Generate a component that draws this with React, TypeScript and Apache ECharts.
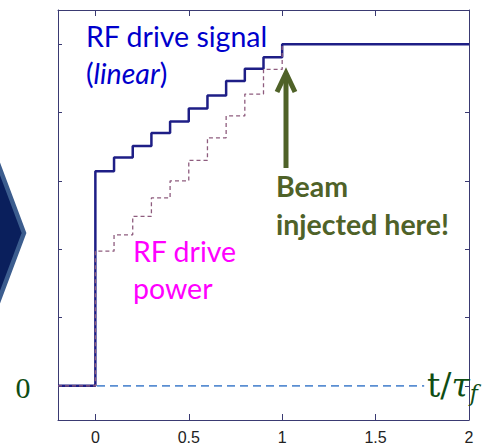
import React, { useEffect, useRef } from "react";
import * as echarts from "echarts";

// step start times (t / tau_f) and levels (arbitrary units, 1 per y tick)
const signalTimes = [-0.2, 0, 0.1, 0.2, 0.3, 0.4, 0.5, 0.6, 0.7, 0.8, 0.9, 1.0, 2.0];
const driveSignal = [0, 3.14, 3.34, 3.51, 3.7, 3.87, 4.06, 4.25, 4.46, 4.64, 4.81, 5.0, 5.0];
const powerTimes = [-0.2, 0, 0.1, 0.2, 0.3, 0.4, 0.5, 0.6, 0.7, 0.8, 0.9, 1.0];
const drivePower = [0, 1.97, 2.21, 2.48, 2.75, 3.0, 3.3, 3.63, 3.95, 4.27, 4.63, 5.0];
const zeroLineTimes = [-0.2, 1.76];
const zeroLineValues = [0, 0];
const xTickValues = [0, 0.5, 1, 1.5, 2];
const xTickLabels = ["0", "0.5", "1", "1.5", "2"];
const yTickValues = [0, 1, 2, 3, 4, 5];

const AXIS = "#3a3a72";
const NAVY = "#1e1e86";
const OLIVE = "#4f6228";
const DKGREEN = "#0f4d14";
const SANS = "Lato, 'Noto Sans', sans-serif";

export default function App() {
  const ref = useRef<HTMLDivElement>(null);
  useEffect(() => {
    document.body.style.margin = "0";
    const chart = echarts.init(ref.current!, undefined, { renderer: "svg" });
    const zip = (xs: number[], ys: number[]) => xs.map((x, i) => [x, ys[i]]);
    const xBase = {
      type: "value" as const,
      min: -0.2,
      max: 2,
      splitLine: { show: false },
      axisLine: { show: true, onZero: false, lineStyle: { color: AXIS, width: 1 } },
      axisTick: { show: true, inside: true, length: 6, customValues: xTickValues, lineStyle: { color: AXIS } },
    };
    const yBase = {
      type: "value" as const,
      min: -0.5,
      max: 5.5,
      splitLine: { show: false },
      axisLine: { show: true, onZero: false, lineStyle: { color: AXIS, width: 1 } },
      axisTick: { show: true, inside: true, length: 4, customValues: yTickValues, lineStyle: { color: AXIS } },
      axisLabel: { show: false },
    };
    chart.setOption({
      animation: false,
      backgroundColor: "#ffffff",
      grid: { left: 58, right: 14, top: 10, bottom: 26, containLabel: false },
      xAxis: [
        {
          ...xBase,
          position: "bottom",
          axisLabel: {
            show: true,
            customValues: xTickValues,
            formatter: (v: number) => xTickLabels[xTickValues.indexOf(v)] ?? "",
            color: "#222222",
            fontFamily: "'Liberation Sans', Arial, sans-serif",
            fontSize: 16,
            margin: 9,
          },
        },
        { ...xBase, position: "top", axisLabel: { show: false } },
      ],
      yAxis: [
        { ...yBase, position: "left" },
        { ...yBase, position: "right" },
      ],
      series: [
        {
          type: "line",
          name: "zero",
          xAxisIndex: 0,
          yAxisIndex: 0,
          data: zip(zeroLineTimes, zeroLineValues),
          showSymbol: false,
          symbol: "none",
          lineStyle: { color: "#5a8ed2", width: 1.6, type: [8, 5] },
          z: 1,
        },
        {
          type: "line",
          name: "RF drive signal",
          xAxisIndex: 0,
          yAxisIndex: 0,
          step: "end",
          data: zip(signalTimes, driveSignal),
          symbol: "none",
          lineStyle: { color: NAVY, width: 2.5 },
          z: 2,
        },
        {
          type: "line",
          name: "RF drive power",
          xAxisIndex: 0,
          yAxisIndex: 0,
          step: "end",
          data: zip(powerTimes, drivePower),
          symbol: "none",
          lineStyle: { color: "#8e5c7e", width: 1.3, type: [4, 3] },
          z: 3,
        },
      ],
      graphic: [
        {
          type: "polygon",
          shape: { points: [[-40, 62], [24, 233], [-40, 404]] },
          style: { fill: "#0a1f5c", stroke: "#3c5d8e", lineWidth: 4.5 },
          z: 10,
        },
        {
          type: "text",
          x: 86,
          y: 36,
          style: { text: "RF drive signal", font: `28.5px ${SANS}`, fill: "#0000cc", verticalAlign: "middle" },
          z: 10,
        },
        {
          type: "text",
          x: 86,
          y: 72.5,
          style: {
            text: "({i|linear})",
            font: `28.5px ${SANS}`,
            fill: "#0000cc",
            verticalAlign: "middle",
            rich: { i: { fontStyle: "italic", fontSize: 28.5, fontFamily: SANS, fill: "#0000cc" } },
          },
          z: 10,
        },
        {
          type: "text",
          x: 133,
          y: 251,
          style: { text: "RF drive", font: `28.5px ${SANS}`, fill: "#ff00ff", verticalAlign: "middle" },
          z: 10,
        },
        {
          type: "text",
          x: 133,
          y: 288,
          style: { text: "power", font: `28.5px ${SANS}`, fill: "#ff00ff", verticalAlign: "middle" },
          z: 10,
        },
        {
          type: "text",
          x: 276,
          y: 186,
          style: { text: "Beam", font: `bold 28.5px ${SANS}`, fill: OLIVE, verticalAlign: "middle" },
          z: 10,
        },
        {
          type: "text",
          x: 276,
          y: 224,
          style: { text: "injected here!", font: `bold 28.5px ${SANS}`, fill: OLIVE, verticalAlign: "middle" },
          z: 10,
        },
        {
          type: "line",
          shape: { x1: 286, y1: 168, x2: 286, y2: 76 },
          style: { stroke: OLIVE, lineWidth: 5 },
          z: 10,
        },
        {
          type: "polyline",
          shape: { points: [[277, 92], [286, 73], [295, 92]] },
          style: { stroke: OLIVE, lineWidth: 5, fill: "none" },
          z: 10,
        },
        {
          type: "text",
          x: 23,
          y: 387,
          style: {
            text: "0",
            font: "30px 'Liberation Serif', serif",
            fill: DKGREEN,
            align: "center",
            verticalAlign: "middle",
          },
          z: 10,
        },
        {
          type: "text",
          x: 427,
          y: 385,
          style: {
            text: "t/{g|τ}{s|f}",
            font: "33px 'DejaVu Serif', serif",
            fill: DKGREEN,
            verticalAlign: "middle",
            rich: {
              g: { fontSize: 33, fontStyle: "italic", fontFamily: "'DejaVu Serif', serif", fill: DKGREEN },
              s: { fontSize: 22, fontStyle: "italic", fontFamily: "'DejaVu Serif', serif", fill: DKGREEN, padding: [16, 0, 0, 0] },
            },
          },
          z: 10,
        },
      ],
    });
    return () => chart.dispose();
  }, []);
  return <div ref={ref} style={{ position: "fixed", left: 0, top: 0, width: 483, height: 446 }} />;
}
